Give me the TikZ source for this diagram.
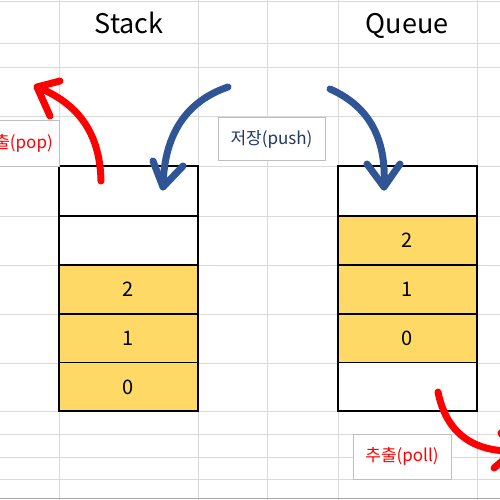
\documentclass[tikz,border=0pt]{standalone}
\usepackage{fontspec}
\setmainfont{Noto Sans CJK KR}
\begin{document}
\begin{tikzpicture}[x=1pt,y=-1pt,
  grid/.style={draw=gridgray,line width=1pt},
  cell/.style={draw=black,line width=1.3pt,minimum width=139pt,minimum height=49pt,inner sep=0pt,font=\fontsize{20}{24}\selectfont},
  full/.style={cell,fill=cellyellow},
  title/.style={font=\fontsize{27}{32}\selectfont,inner sep=0pt,anchor=base},
  lbl/.style={draw=boxgray,fill=white,line width=1pt,inner sep=0pt,font=\fontsize{17}{20}\selectfont},
  redarrow/.style={draw=arrred,line width=7pt,line cap=round,line join=round},
  bluearrow/.style={draw=arrblue,line width=7pt,line cap=round,line join=round}]
\definecolor{gridgray}{HTML}{D9D9D9}
\definecolor{boxgray}{HTML}{BFBFBF}
\definecolor{cellyellow}{HTML}{FFD966}
\definecolor{arrred}{HTML}{FF0000}
\definecolor{arrblue}{HTML}{2F5597}
\definecolor{txtblue}{HTML}{203864}
\useasboundingbox (0,0) rectangle (500,500);
\clip (0,0) rectangle (500,500);
\fill[white] (0,0) rectangle (500,500);
% grid
\foreach \yy in {2,44,68,117,166,216,265,314,363,411,434,457,479}
  \draw[grid] (0,\yy) -- (500,\yy);
\foreach \xx in {59,198,267,338,477}
  \draw[grid] (\xx,0) -- (\xx,500);
\draw[draw=gray!70,line width=1.5pt] (0,498.5) -- (500,498.5);
% titles
\node[title] (tstack) at (129,34) {Stack};
\node[title] (tqueue) at (407,34) {Queue};
% stack
\node[cell,fill=white] (s4) at (128.5,191) {};
\node[cell,fill=white] (s3) at (128.5,240.5) {};
\node[full] (s2) at (128.5,289.5) {2};
\node[full] (s1) at (128.5,338.5) {1};
\node[full] (s0) at (128.5,387) {0};
\draw[line width=2pt] (59,166) rectangle (198,411);
% queue
\node[cell,fill=white] (q4) at (407.5,191) {};
\node[full] (q2) at (407.5,240.5) {2};
\node[full] (q1) at (407.5,289.5) {1};
\node[full] (q0) at (407.5,338.5) {0};
\node[cell,fill=white] (q3) at (407.5,387) {};
\draw[line width=2pt] (338,166) rectangle (477,411);
% labels
\node[lbl,minimum width=107pt,minimum height=43pt] (push) at (271.5,139) {\color{txtblue}저장(push)};
\node[lbl,minimum width=110pt,minimum height=46pt] (pop) at (4,143) {};
\node[anchor=east,inner sep=0pt,font=\fontsize{17}{20}\selectfont,text=arrred] (poptxt) at (53,143) {추출(pop)};
\node[lbl,minimum width=98pt,minimum height=45pt,text=arrred] (poll) at (402,456.5) {추출(poll)};
% arrows
\coordinate (pa) at (101,181); \coordinate (pt) at (37,87);
\draw[redarrow] (pa) .. controls (100,135) and (80,104) .. (pt);
\draw[redarrow] (60,81) -- (pt) -- (50,116);
\coordinate (sa) at (228,87); \coordinate (st) at (163,187);
\draw[bluearrow] (sa) .. controls (190,100) and (164,130) .. (st);
\draw[bluearrow] (153,161) -- (st) -- (183,166);
\coordinate (qa) at (330,89); \coordinate (qt) at (384,187);
\draw[bluearrow] (qa) .. controls (366,105) and (387,135) .. (qt);
\draw[bluearrow] (367,164) -- (qt) -- (400,164);
\coordinate (la) at (438,392); \coordinate (lt) at (514,451);
\draw[redarrow] (la) .. controls (446,432) and (472,452) .. (lt);
\draw[redarrow] (501,433) -- (lt) -- (494,468);
\end{tikzpicture}
\end{document}
